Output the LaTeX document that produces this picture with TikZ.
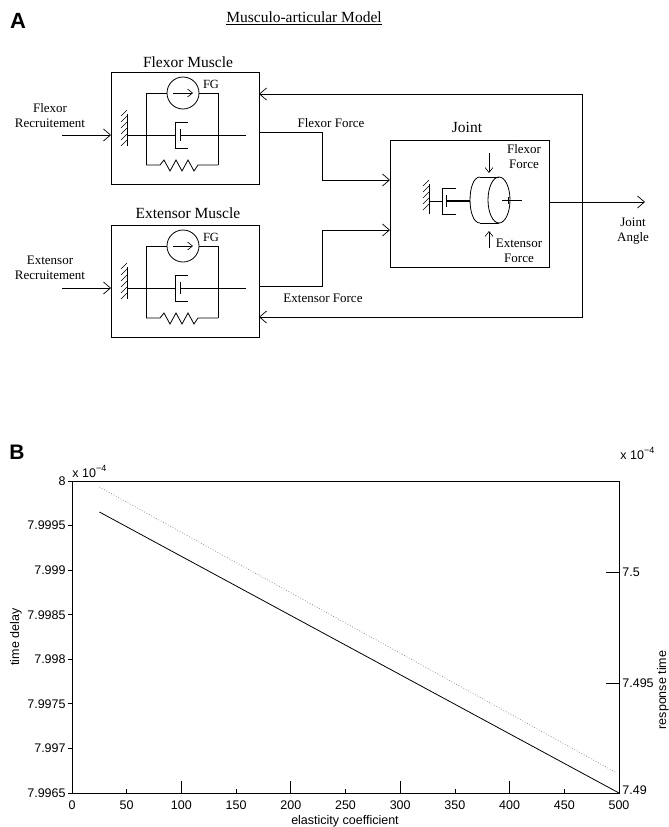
\documentclass[tikz,border=0pt]{standalone}
\usepackage{fontspec}
\setmainfont{Liberation Serif}
\newfontfamily\plotfont{Liberation Sans}
\usetikzlibrary{arrows.meta}
\tikzset{
  barb/.style={-{Straight Barb[length=7pt,width=12pt,line width=0.7pt]}},
  sbarb/.style={-{Straight Barb[length=5pt,width=8pt,line width=0.6pt]}},
  blockbox/.style={draw, line width=0.9pt, inner sep=0pt, outer sep=0pt, anchor=north west},
  lbl/.style={font=\fontsize{13}{15}\selectfont, align=center, inner sep=0pt},
  ttl/.style={font=\fontsize{15.5}{17}\selectfont, inner sep=0pt},
  ticklbl/.style={font=\plotfont\fontsize{12.5}{14}\selectfont, inner sep=0pt},
  musclepic/.pic={
    % force generator
    \draw (35,93) -- (35,21) -- (107,21) -- (107,93);
    \draw[fill=white] (72,21) circle (16);
    \draw[sbarb] (62,21) -- (82,21);
    \node[font=\fontsize{12.5}{13}\selectfont, inner sep=0pt] at (100,12) {FG};
    % wall
    \draw (16,42) -- (16,74);
    \foreach \yy in {44,50,...,74} \draw[line width=0.6pt] (16,\yy-6) -- (10,\yy);
    % damper
    \draw (16,63) -- (64,63);
    \draw (77,50) -- (64,50) -- (64,76) -- (77,76);
    \draw (69,57) -- (69,69);
    \draw (69,63) -- (135,63);
    % spring
    \draw (35,93) -- (49,93) -- (53,88) -- (59,99) -- (65,88) -- (71,99) -- (77,88) -- (83,99) -- (87,93) -- (107,93);
  }
}
\begin{document}
\begin{tikzpicture}[x=1pt,y=-1pt,line width=0.8pt]
\useasboundingbox[fill=white] (0,0) rectangle (669,827);

% ---------------- Panel A ----------------
\node[font=\plotfont\bfseries\fontsize{22}{22}\selectfont, inner sep=0pt] (labA) at (18,21) {A};
\node[font=\fontsize{15.5}{17}\selectfont, inner sep=0pt] (mtitle) at (304,18) {\underline{Musculo-articular Model}};

\node[blockbox, minimum width=148pt, minimum height=112pt] (flex) at (111,72) {};
\node[blockbox, minimum width=148pt, minimum height=112pt] (ext) at (111,225) {};
\node[blockbox, minimum width=159pt, minimum height=127pt] (joint) at (390,140) {};

\node[ttl] (flext) at (188,62) {Flexor Muscle};
\node[ttl] (extt) at (188,213) {Extensor Muscle};
\node[ttl] (jointt) at (467,127) {Joint};

\pic at (flex.north west) {musclepic};
\pic at (ext.north west) {musclepic};

% inputs
\node[lbl] (frl) at (50,115.5) {Flexor\\Recruitement};
\node[lbl] (erl) at (50,268) {Extensor\\Recruitement};
\coordinate (fr) at (62,135);
\coordinate (er) at (62,288);
\draw[barb] (fr) -- (fr -| flex.west);
\draw[barb] (er) -- (er -| ext.west);

% forces to joint
\draw[barb] ([yshift=-4pt]flex.east) -| (322,180) -- (390,180);
\draw[barb] ([yshift=-5pt]ext.east) -| (322,230) -- (390,230);
\node[lbl] (ffl) at (331,123) {Flexor Force};
\node[lbl] (efl) at (323,298) {Extensor Force};

% joint output and feedback
\coordinate (ja) at (645,202);
\coordinate (tap) at (582,202);
\draw[barb] (joint.east |- ja) -- (ja);
\draw[barb] (tap) |- ([yshift=34pt]flex.east);
\draw[barb] (tap) |- ([yshift=-36pt]ext.east);
\node[lbl] (jal) at (633,231) {Joint\\Angle};

% joint internals
\draw (429,184) -- (429,214);
\foreach \yy in {186,192,...,214} \draw[line width=0.6pt] (429,\yy-6) -- (423,\yy);
\draw (429,201) -- (442,201);
\draw (456,188) -- (442,188) -- (442,214) -- (456,214);
\draw (446,195) -- (446,207);
\draw[line width=1.2pt] (446,201) -- (470,201);
\draw (480,177) .. controls (466.7,177) and (466.7,223) .. (480,223);
\draw (480,177) -- (499,177);
\draw (480,223) -- (499,223);
\draw (499,200) ellipse [x radius=11, y radius=23];
\draw (502,200) -- (522,200);
\draw (508,197) -- (508,204);
\draw[sbarb] (489,153) -- (489,173);
\draw[sbarb] (489,248) -- (489,231);
\node[lbl] (jff) at (524,157) {Flexor\\Force};
\node[lbl] (jef) at (519,251) {Extensor\\Force};

% ---------------- Panel B ----------------
\node[font=\plotfont\bfseries\fontsize{21}{21}\selectfont, inner sep=0pt] (labB) at (17,452) {B};
\draw[line width=0.8pt] (72,481) rectangle (619,793);

% left ticks
\foreach \i/\t in {0/8,1/7.9995,2/7.999,3/7.9985,4/7.998,5/7.9975,6/7.997,7/7.9965} {
  \draw (68,481+\i*44.571) -- (72,481+\i*44.571);
  \node[ticklbl, anchor=east] at (66,481+\i*44.571) {\t};
}
% bottom ticks
\foreach \i in {1,...,9} {
  \pgfmathsetmacro{\tl}{ifthenelse(mod(\i,2)==0,12,4)}
  \draw (72+\i*54.7,793) -- (72+\i*54.7,793-\tl);
}
\foreach \i in {0,...,10} {
  \pgfmathtruncatemacro{\v}{\i*50}
  \node[ticklbl] at (72+\i*54.7,805) {\v};
}
% right ticks
\draw (606,572) -- (619,572);
\draw (606,683) -- (619,683);
\node[ticklbl, anchor=west] at (622,572) {7.5};
\node[ticklbl, anchor=west] at (622,683) {7.495};
\node[ticklbl, anchor=west] at (622,790) {7.49};

% exponent labels
\node[ticklbl, anchor=west] at (72,471) {x 10\raisebox{6pt}{\fontsize{9}{9}\selectfont −4}};
\node[ticklbl, anchor=west] at (620,453) {x 10\raisebox{6pt}{\fontsize{9}{9}\selectfont −4}};

% axis labels
\node[ticklbl, rotate=90] at (16,637) {time delay};
\node[ticklbl, rotate=90] at (663,690) {response time};
\node[ticklbl] at (345,821) {elasticity coefficient};

% data
\draw[line width=0.8pt] (99.4,512) -- (619,793);
\draw[dotted, gray, line width=0.7pt] (99.4,487) -- (617,773);
\end{tikzpicture}
\end{document}
